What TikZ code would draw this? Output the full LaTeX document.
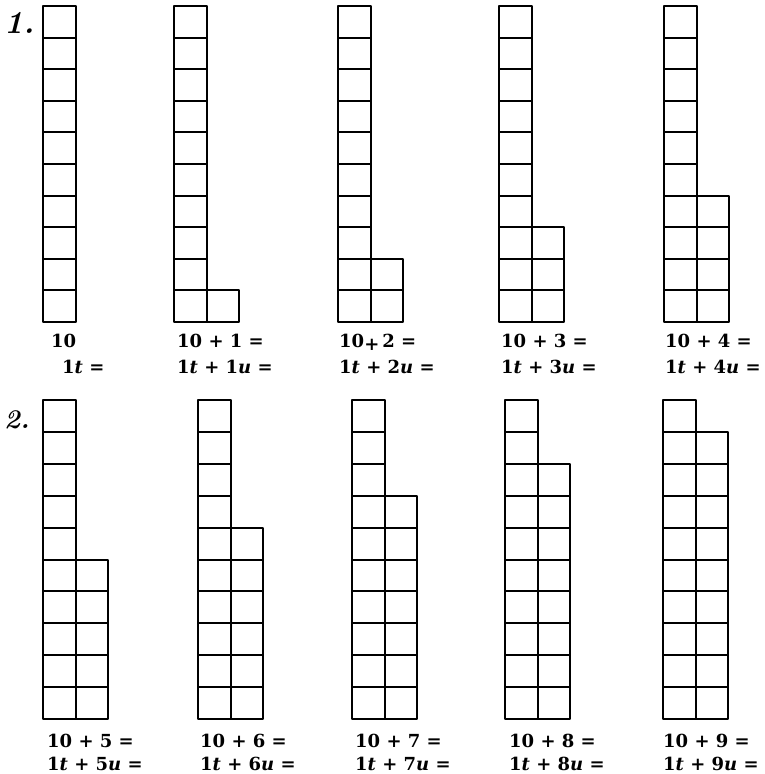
\documentclass[tikz,border=0pt]{standalone}
\usepackage{fontspec}
\newfontfamily\lblfont{DejaVu Serif}
\begin{document}
\begin{tikzpicture}[x=1pt,y=-1pt,
  cell/.style={draw=black,line width=2pt,line join=round},
  lbl/.style={anchor=base west,inner sep=0pt,font=\lblfont\fontsize{18}{20}\selectfont\bfseries},
  num/.style={anchor=base west,inner sep=0pt,font=\fontsize{32}{34}\selectfont\bfseries\itshape}]
\useasboundingbox (0,0) rectangle (765,774);
\def\cw{32.5}
% #1 x, #2 bottom y, #3 cell height, #4 number of units
\newcommand{\tenunits}[4]{%
  \foreach \i in {1,...,10}{%
    \draw[cell] (#1,{#2-(\i-1)*#3}) rectangle ({#1+\cw},{#2-\i*#3});
  }
  \ifnum#4>0
  \foreach \i in {1,...,#4}{%
    \draw[cell] ({#1+\cw},{#2-(\i-1)*#3}) rectangle ({#1+2*\cw},{#2-\i*#3});
  }
  \fi
}
% row 1
\tenunits{43}{322}{31.6}{0}
\tenunits{174}{322}{31.6}{1}
\tenunits{338}{322}{31.6}{2}
\tenunits{499}{322}{31.6}{3}
\tenunits{664}{322}{31.6}{4}
% row 2
\tenunits{43}{719}{31.9}{5}
\tenunits{198}{719}{31.9}{6}
\tenunits{352}{719}{31.9}{7}
\tenunits{505}{719}{31.9}{8}
\tenunits{663}{719}{31.9}{9}
% section numbers
\node[num] (n1) at (4,33) {1.};
\node[num,font=\fontsize{27}{29}\selectfont\bfseries\itshape] (n2) at (4,428) {2.};
% labels row 1
\node[lbl] (a0) at (51,347) {10};
\node[lbl] (b0) at (62,373) {1\textit{t} =};
\node[lbl] (a1) at (177,347) {10 + 1 =};
\node[lbl] (b1) at (177,373) {1\textit{t} + 1\textit{u} =};
\node[lbl] (a2) at (339,347) {10\raisebox{-3pt}{+}\,2 =};
\node[lbl] (b2) at (339,373) {1\textit{t} + 2\textit{u} =};
\node[lbl] (a3) at (501,347) {10 + 3 =};
\node[lbl] (b3) at (501,373) {1\textit{t} + 3\textit{u} =};
\node[lbl] (a4) at (665,347) {10 + 4 =};
\node[lbl] (b4) at (665,373) {1\textit{t} + 4\textit{u} =};
% labels row 2
\node[lbl] (a5) at (47,747) {10 + 5 =};
\node[lbl] (b5) at (47,770) {1\textit{t} + 5\textit{u} =};
\node[lbl] (a6) at (200,747) {10 + 6 =};
\node[lbl] (b6) at (200,770) {1\textit{t} + 6\textit{u} =};
\node[lbl] (a7) at (355,747) {10 + 7 =};
\node[lbl] (b7) at (355,770) {1\textit{t} + 7\textit{u} =};
\node[lbl] (a8) at (509,747) {10 + 8 =};
\node[lbl] (b8) at (509,770) {1\textit{t} + 8\textit{u} =};
\node[lbl] (a9) at (663,747) {10 + 9 =};
\node[lbl] (b9) at (663,770) {1\textit{t} + 9\textit{u} =};
\end{tikzpicture}
\end{document}
